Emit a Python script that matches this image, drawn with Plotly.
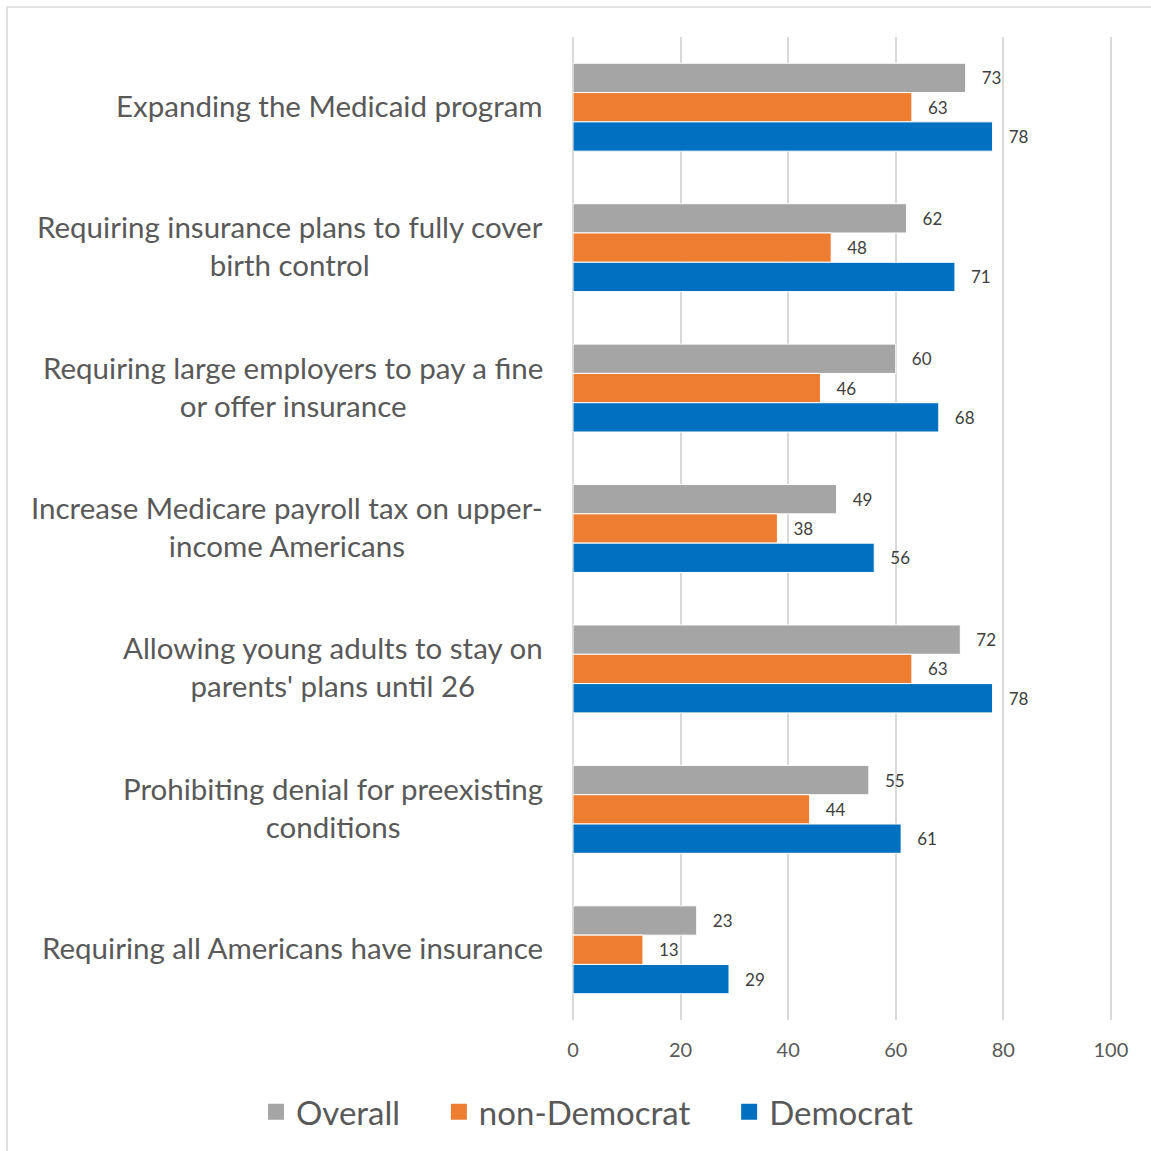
import plotly.graph_objects as go

# Policy items, listed top to bottom
categories = [
    "Expanding the Medicaid program",
    "Requiring insurance plans to fully cover<br>birth control",
    "Requiring large employers to pay a fine<br>or offer insurance",
    "Increase Medicare payroll tax on upper-<br>income Americans",
    "Allowing young adults to stay on<br>parents' plans until 26",
    "Prohibiting denial for preexisting<br>conditions",
    "Requiring all Americans have insurance",
]

overall = [73, 62, 60, 49, 72, 55, 23]
non_democrat = [63, 48, 46, 38, 63, 44, 13]
democrat = [78, 71, 68, 56, 78, 61, 29]

x_ticks = [0, 20, 40, 60, 80, 100]

series = [
    ("Overall", overall, "#a5a5a5"),
    ("non-Democrat", non_democrat, "#ed7d31"),
    ("Democrat", democrat, "#0070c0"),
]

FONT = "Lato, 'Open Sans', sans-serif"
TEXT_COLOR = "#595959"

W = H = 1151
ML, MR, MT, MB = 8, 8, 37, 131
paper_w = W - ML - MR
paper_h = H - MT - MB
plot_left, plot_right = 573, 1112
x_domain = [(plot_left - ML) / paper_w, (plot_right - ML) / paper_w]

fig = go.Figure()
for name, values, color in series:
    fig.add_trace(go.Bar(
        name=name,
        y=categories,
        x=values,
        orientation="h",
        marker=dict(color=color, line=dict(color="white", width=1)),
        text=values,
        texttemplate="\u00a0\u00a0\u00a0%{x}",
        textposition="outside",
        cliponaxis=False,
        textfont=dict(family=FONT, size=17, color="#404040"),
        hoverinfo="skip",
        showlegend=False,
    ))

# legend entries with larger square swatches (trailing spaces widen the gaps)
for i, (name, _, color) in enumerate(series):
    pad = "\u00a0" * 4 if i < len(series) - 1 else ""
    fig.add_trace(go.Scatter(
        name=name + pad,
        x=[None],
        y=[None],
        mode="markers",
        marker=dict(symbol="square", size=16, color=color),
        hoverinfo="skip",
        showlegend=True,
    ))

# category labels: right-aligned block, lines centred within it
annotations = [
    dict(
        text=cat,
        x=x_domain[0],
        xref="paper",
        y=cat,
        yref="y",
        xanchor="right",
        yanchor="middle",
        xshift=-28,
        yshift=2,
        align="center",
        showarrow=False,
        font=dict(family=FONT, size=29.5, color=TEXT_COLOR),
    )
    for cat in categories
]

fig.update_layout(
    width=W,
    height=H,
    barmode="group",
    bargap=0.374,
    bargroupgap=0,
    plot_bgcolor="white",
    paper_bgcolor="white",
    margin=dict(l=ML, r=MR, t=MT, b=MB, autoexpand=False),
    font=dict(family=FONT, color=TEXT_COLOR),
    showlegend=True,
    legend=dict(
        orientation="h",
        xref="container",
        yref="container",
        x=0.51,
        y=0.034,
        xanchor="center",
        yanchor="middle",
        font=dict(family=FONT, size=33, color=TEXT_COLOR),
        traceorder="normal",
        itemsizing="trace",
        itemwidth=30,
    ),
    annotations=annotations,
    shapes=[
        # thin frame around the chart area
        dict(type="rect", xref="paper", yref="paper",
             x0=-1 / paper_w, x1=2.0, y0=-2.0, y1=1 + 30 / paper_h,
             line=dict(color="#d9d9d9", width=1.5), fillcolor="rgba(0,0,0,0)",
             layer="below"),
    ],
)

fig.update_xaxes(
    domain=x_domain,
    range=[0, 100.2],
    tickvals=x_ticks,
    showgrid=True,
    gridcolor="#d9d9d9",
    gridwidth=1.5,
    zeroline=True,
    zerolinecolor="#d9d9d9",
    zerolinewidth=1.5,
    showline=False,
    ticks="",
    ticklabelstandoff=16,
    automargin=False,
    tickfont=dict(family=FONT, size=20, color=TEXT_COLOR),
)

fig.update_yaxes(
    autorange="reversed",
    showgrid=False,
    showline=False,
    ticks="",
    showticklabels=False,
    automargin=False,
)

fig.write_html("out.html")
